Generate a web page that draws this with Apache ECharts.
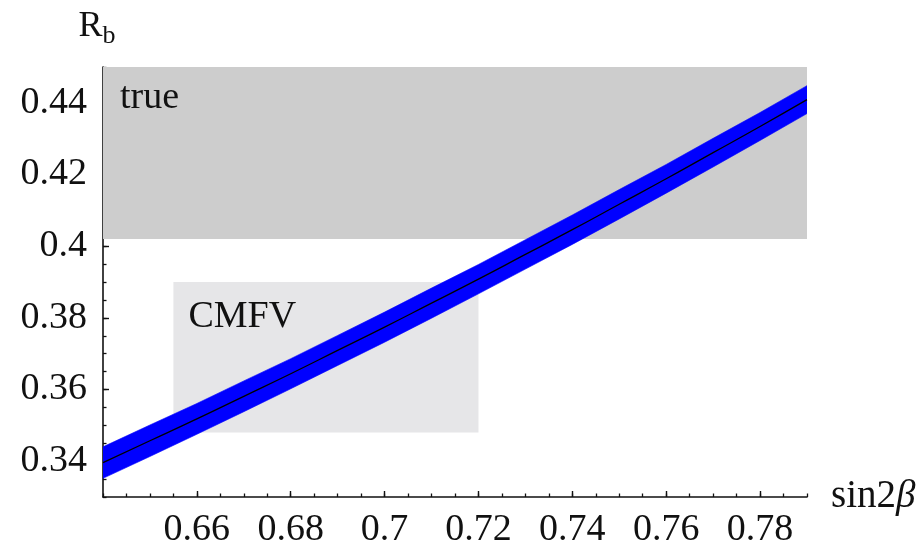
<!DOCTYPE html>
<html>
<head>
<meta charset="utf-8">
<script src="https://cdn.jsdelivr.net/npm/echarts@6/dist/echarts.min.js"></script>
<style>
  html, body { margin: 0; padding: 0; background: #fff; }
  #chart { width: 921px; height: 549px; }
</style>
</head>
<body>
<div id="chart"></div>
<script>
// sin2β sample points
const sin2b = [0.64, 0.65, 0.66, 0.67, 0.68, 0.69, 0.70, 0.71, 0.72, 0.73, 0.74, 0.75, 0.76, 0.77, 0.78, 0.79];
// central R_b curve and its uncertainty band
const rbCentral = [0.3396, 0.3457, 0.3518, 0.3581, 0.3644, 0.3709, 0.3774, 0.3841, 0.3908, 0.3977, 0.4046, 0.4117, 0.4188, 0.4261, 0.4334, 0.4409];
const rbLower   = [0.3352, 0.3413, 0.3475, 0.3538, 0.3602, 0.3667, 0.3732, 0.3799, 0.3867, 0.3936, 0.4005, 0.4076, 0.4148, 0.4221, 0.4295, 0.4370];
const rbUpper   = [0.3440, 0.3501, 0.3561, 0.3624, 0.3686, 0.3751, 0.3816, 0.3883, 0.3949, 0.4018, 0.4087, 0.4158, 0.4228, 0.4301, 0.4373, 0.4448];

// shaded regions: [sin2β from, sin2β to, R_b from, R_b to]
const trueRegion = [0.64, 0.79, 0.402, 0.45];
const cmfvRegion = [0.655, 0.72, 0.348, 0.39];

// labelled tick positions
const xTickLabels = [0.66, 0.68, 0.70, 0.72, 0.74, 0.76, 0.78];
const yTickLabels = [0.34, 0.36, 0.38, 0.40, 0.42, 0.44];

const xRange = [0.64, 0.79];
const yRange = [0.33, 0.45];

const SERIF = '"Liberation Serif", "DejaVu Serif", "Times New Roman", serif';
const INK = '#111';

const chart = echarts.init(document.getElementById('chart'), null, { renderer: 'canvas' });

function zipXY(xs, ys) { return xs.map((x, i) => [x, ys[i]]); }

const majorAxisCommon = {
  axisLine: { show: true, lineStyle: { color: INK, width: 1.6 } },
  splitLine: { show: false }
};

// closed outline of the band: along the upper edge, back along the lower edge
function renderBand(params, api) {
  const pts = [];
  for (let i = 0; i < sin2b.length; i++) pts.push(api.coord([sin2b[i], rbUpper[i]]));
  for (let i = sin2b.length - 1; i >= 0; i--) pts.push(api.coord([sin2b[i], rbLower[i]]));
  return {
    type: 'polygon',
    shape: { points: pts },
    style: { fill: '#0000ff', stroke: '#0000ff', lineWidth: 0.6 }
  };
}

function regionLabel(text, dx, dy) {
  return { show: true, position: 'insideTopLeft', distance: 0, offset: [dx, dy], formatter: text,
           fontFamily: SERIF, fontSize: 38, color: INK };
}

const option = {
  animation: false,
  backgroundColor: '#fff',
  grid: { left: 103, right: 114, top: 67, bottom: 46, containLabel: false },
  xAxis: [
    Object.assign({
      type: 'value', min: xRange[0], max: xRange[1], position: 'bottom',
      name: '{t|sin2}{g|β}', nameLocation: 'end', nameGap: 24,
      nameTextStyle: {
        rich: {
          t: { fontFamily: SERIF, fontSize: 39, color: INK },
          g: { fontFamily: SERIF, fontSize: 39, fontStyle: 'italic', color: INK }
        }
      },
      axisTick: { show: true, inside: true, length: 6, customValues: xTickLabels, lineStyle: { color: INK, width: 1.4 } },
      axisLabel: { customValues: xTickLabels, fontFamily: SERIF, fontSize: 38, color: INK, margin: 14 }
    }, majorAxisCommon),
    {
      type: 'value', min: xRange[0], max: xRange[1], interval: 0.005, position: 'bottom',
      axisLine: { show: false }, splitLine: { show: false }, axisLabel: { show: false },
      axisTick: { show: true, inside: true, length: 3.5, lineStyle: { color: INK, width: 1.3 } }
    }
  ],
  yAxis: [
    Object.assign({
      type: 'value', min: yRange[0], max: yRange[1], position: 'left',
      name: '{r|R}{s|b}', nameLocation: 'end', nameGap: 18,
      nameTextStyle: {
        align: 'center',
        padding: [0, 12, 0, 0],
        rich: {
          r: { fontFamily: SERIF, fontSize: 36, color: INK },
          s: { fontFamily: SERIF, fontSize: 26, color: INK, padding: [18, 0, 0, 0] }
        }
      },
      axisTick: { show: true, inside: true, length: 6, customValues: yTickLabels, lineStyle: { color: INK, width: 1.4 } },
      axisLabel: { customValues: yTickLabels, fontFamily: SERIF, fontSize: 38, color: INK, margin: 16 }
    }, majorAxisCommon),
    {
      type: 'value', min: yRange[0], max: yRange[1], interval: 0.005, position: 'left',
      axisLine: { show: false }, splitLine: { show: false }, axisLabel: { show: false },
      axisTick: { show: true, inside: true, length: 3.5, lineStyle: { color: INK, width: 1.3 } }
    }
  ],
  series: [
    {
      name: 'band', type: 'custom', z: 3, clip: true, silent: true,
      renderItem: renderBand,
      data: [[sin2b[0], rbCentral[0]]],
      markArea: {
        silent: true,
        z: 1,
        data: [
          [
            { name: 'true', coord: [trueRegion[0], trueRegion[2]], itemStyle: { color: '#cdcdcd' },
              label: regionLabel('true', 17, 12) },
            { coord: [trueRegion[1], trueRegion[3]] }
          ],
          [
            { name: 'CMFV', coord: [cmfvRegion[0], cmfvRegion[2]], itemStyle: { color: '#e6e6e8' },
              label: regionLabel('CMFV', 15, 16) },
            { coord: [cmfvRegion[1], cmfvRegion[3]] }
          ]
        ]
      }
    },
    {
      name: 'central', type: 'line', z: 4,
      data: zipXY(sin2b, rbCentral),
      symbol: 'none', smooth: true,
      lineStyle: { color: '#000', width: 1.3 }
    }
  ]
};

chart.setOption(option);
</script>
</body>
</html>
